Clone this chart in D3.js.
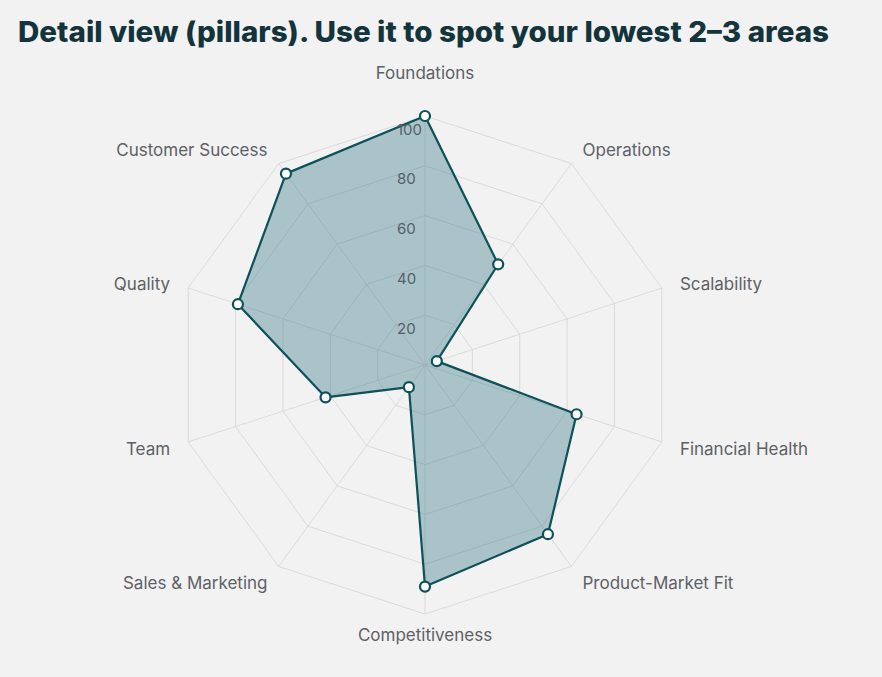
<!DOCTYPE html>
<html>
<head>
<meta charset="utf-8">
<script src="https://cdn.jsdelivr.net/npm/d3@7"></script>
<style>
  body { margin: 0; background: #f2f2f2; }
  svg { display: block; }
</style>
</head>
<body>
<div id="chart"></div>
<script>
// pillars, clockwise from the top
let pillars = ['Foundations', 'Operations', 'Scalability', 'Financial Health', 'Product-Market Fit',
  'Competitiveness', 'Sales & Marketing', 'Team', 'Quality', 'Customer Success'];
let scores = [100, 50, 5, 64, 84, 89, 11, 42, 79, 95];
let radialTicks = [20, 40, 60, 80, 100];

let svgWidth = 882, svgHeight = 677,
  cx = 425, cy = 365,
  outerRadius = 249,
  labelGap = 19,
  lineColor = '#0d5159',
  gridColor = '#dadada';

const svg = d3.select('#chart')
  .append('svg')
  .attr('width', svgWidth)
  .attr('height', svgHeight);

svg.append('rect')
  .attr('width', svgWidth)
  .attr('height', svgHeight)
  .attr('fill', '#f2f2f2');

// title
svg.append('text')
  .attr('x', 18)
  .attr('y', 42)
  .attr('textLength', 811)
  .attr('lengthAdjust', 'spacingAndGlyphs')
  .attr('font-family', 'Inter, Roboto, sans-serif')
  .attr('font-weight', 800)
  .attr('font-size', 28)
  .attr('fill', '#13343b')
  .text('Detail view (pillars). Use it to spot your lowest 2\u20133 areas');

const r = d3.scaleLinear().domain([0, 100]).range([0, outerRadius]);
const angle = d3.scalePoint().domain(pillars).range([0, 2 * Math.PI * (pillars.length - 1) / pillars.length]);

const g = svg.append('g').attr('transform', `translate(${cx}, ${cy})`);

// decagon rings
const ring = d3.lineRadial()
  .angle(d => angle(d))
  .curve(d3.curveLinearClosed);

g.selectAll('.ring')
  .data(radialTicks)
  .enter()
  .append('path')
  .attr('class', 'ring')
  .attr('d', t => ring.radius(r(t))(pillars))
  .attr('fill', 'none')
  .attr('stroke', gridColor)
  .attr('stroke-width', 1);

// spokes
g.selectAll('.spoke')
  .data(pillars)
  .enter()
  .append('line')
  .attr('class', 'spoke')
  .attr('x1', 0)
  .attr('y1', 0)
  .attr('x2', d => d3.pointRadial(angle(d), r(100))[0])
  .attr('y2', d => d3.pointRadial(angle(d), r(100))[1])
  .attr('stroke', gridColor)
  .attr('stroke-width', 1);

// score area
const area = d3.lineRadial()
  .angle((d, i) => angle(pillars[i]))
  .radius(d => r(d))
  .curve(d3.curveLinearClosed);

g.append('path')
  .attr('d', area(scores))
  .attr('fill', '#216e7a')
  .attr('fill-opacity', 0.35)
  .attr('stroke', lineColor)
  .attr('stroke-width', 2.2)
  .attr('stroke-linejoin', 'round');

// radial tick labels
g.selectAll('.r-label')
  .data(radialTicks)
  .enter()
  .append('text')
  .attr('class', 'r-label')
  .attr('x', -28)
  .attr('y', t => -r(t) + 13)
  .attr('dominant-baseline', 'central')
  .attr('font-family', 'Inter, Roboto, sans-serif')
  .attr('font-size', 15)
  .attr('fill', '#56606a')
  .text(t => t);

// markers
g.selectAll('.dot')
  .data(scores)
  .enter()
  .append('circle')
  .attr('class', 'dot')
  .attr('cx', (d, i) => d3.pointRadial(angle(pillars[i]), r(d))[0])
  .attr('cy', (d, i) => d3.pointRadial(angle(pillars[i]), r(d))[1])
  .attr('r', 5)
  .attr('fill', '#ffffff')
  .attr('stroke', lineColor)
  .attr('stroke-width', 2.2);

// pillar labels
g.selectAll('.a-label')
  .data(pillars)
  .enter()
  .append('text')
  .attr('class', 'a-label')
  .attr('x', d => d3.pointRadial(angle(d), outerRadius + labelGap)[0])
  .attr('y', d => {
    const y = d3.pointRadial(angle(d), outerRadius + labelGap)[1];
    return angle(d) === 0 ? y - 24 : y + 1.5;
  })
  .attr('dominant-baseline', 'central')
  .attr('text-anchor', d => {
    const s = Math.sin(angle(d));
    return Math.abs(s) < 0.01 ? 'middle' : (s > 0 ? 'start' : 'end');
  })
  .attr('font-family', 'Inter, Roboto, sans-serif')
  .attr('font-size', 17)
  .attr('fill', '#5d6166')
  .text(d => d);
</script>
</body>
</html>
